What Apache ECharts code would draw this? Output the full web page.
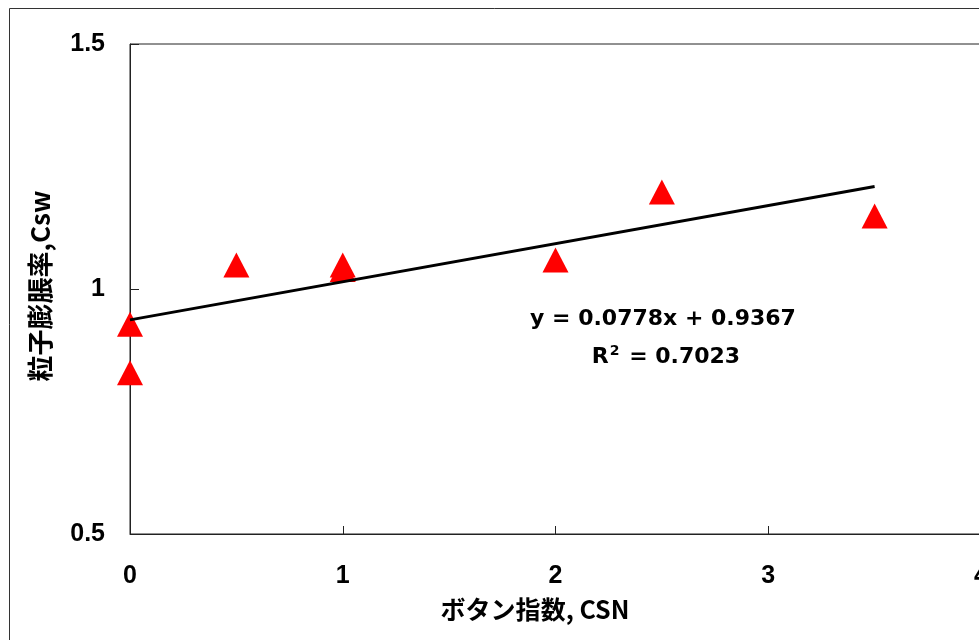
<!DOCTYPE html>
<html>
<head>
<meta charset="utf-8">
<script src="https://cdn.jsdelivr.net/npm/echarts@6/dist/echarts.min.js"></script>
<style>
html,body{margin:0;padding:0;background:#fff;}
#chart{width:979px;height:640px;}
</style>
</head>
<body>
<div id="chart"></div>
<script>
// 測定値 (ボタン指数, 粒子膨脹率)
var csn = [0, 0, 0.5, 1, 1, 2, 2.5, 3.5];
var csw = [0.928, 0.829, 1.049, 1.049, 1.040, 1.059, 1.198, 1.149];
// 近似直線の両端
var trendX = [0, 3.5];
var trendY = [0.937, 1.209];
var xTicks = [0, 1, 2, 3, 4];
var yTicks = [0.5, 1, 1.5];

var eqText = 'y = 0.0778x + 0.9367';
var r2Text = '0.7023';

var points = [];
for (var i = 0; i < csn.length; i++) {
	points.push([csn[i], csw[i]]);
}
var trend = [];
for (var j = 0; j < trendX.length; j++) {
	trend.push([trendX[j], trendY[j]]);
}

var labelFont = {
	color: '#000',
	fontSize: 25,
	fontWeight: 'bold',
	fontFamily: '"Liberation Sans", Arial, sans-serif'
};

var myChart = echarts.init(document.getElementById('chart'));
myChart.setOption({
	animation: false,
	backgroundColor: '#fff',
	grid: {
		left: 130,
		top: 44,
		width: 851,
		height: 490,
		outerBoundsMode: 'none',
		containLabel: false,
		show: true,
		borderColor: '#222',
		borderWidth: 1
	},
	xAxis: {
		type: 'value',
		min: xTicks[0],
		max: xTicks[xTicks.length - 1],
		interval: 1,
		axisLine: {show: true, onZero: false, lineStyle: {color: '#222', width: 1}},
		axisTick: {show: true, inside: true, length: 8, lineStyle: {color: '#222'}},
		splitLine: {show: false},
		axisLabel: Object.assign({margin: 30, hideOverlap: false}, labelFont)
	},
	yAxis: {
		type: 'value',
		min: yTicks[0],
		max: yTicks[yTicks.length - 1],
		interval: 0.5,
		axisLine: {show: true, onZero: false, lineStyle: {color: '#222', width: 1}},
		axisTick: {show: true, inside: true, length: 9, lineStyle: {color: '#222'}},
		splitLine: {show: false},
		axisLabel: Object.assign({margin: 25}, labelFont)
	},
	graphic: [
		{
			type: 'rect',
			shape: {x: 9.5, y: 8.5, width: 1000, height: 700},
			style: {fill: 'none', stroke: '#333', lineWidth: 1},
			silent: true
		},
		{
			type: 'text',
			x: 535,
			y: 609,
			style: {
				text: 'ボタン指数, CSN',
				fill: '#000',
				align: 'center',
				verticalAlign: 'middle',
				font: 'bold 25px "Noto Sans CJK JP", sans-serif'
			}
		},
		{
			type: 'text',
			x: 40,
			y: 286,
			rotation: Math.PI / 2,
			style: {
				text: '粒子膨脹率,Csw',
				fill: '#000',
				align: 'center',
				verticalAlign: 'middle',
				font: 'bold 26px "Noto Sans CJK JP", sans-serif'
			}
		},
		{
			type: 'text',
			x: 663,
			y: 319,
			style: {
				text: eqText,
				fill: '#000',
				align: 'center',
				verticalAlign: 'middle',
				font: 'bold 22px "DejaVu Sans", sans-serif'
			}
		},
		{
			type: 'text',
			x: 666,
			y: 357,
			style: {
				text: '{r|R}{s|2}{r| = ' + r2Text + '}',
				align: 'center',
				verticalAlign: 'middle',
				rich: {
					r: {fill: '#000', font: 'bold 22px "DejaVu Sans", sans-serif'},
					s: {fill: '#000', font: 'bold 14px "DejaVu Sans", sans-serif', verticalAlign: 'top', padding: [0, 2, 12, 1]}
				}
			}
		}
	],
	series: [
		{
			name: 'Csw',
			type: 'scatter',
			symbol: 'triangle',
			symbolSize: [26, 25],
			itemStyle: {color: '#FF0000', opacity: 1},
			z: 2,
			data: points
		},
		{
			name: '近似直線',
			type: 'line',
			symbol: 'none',
			lineStyle: {color: '#000', width: 3},
			z: 3,
			data: trend
		}
	]
});
</script>
</body>
</html>
